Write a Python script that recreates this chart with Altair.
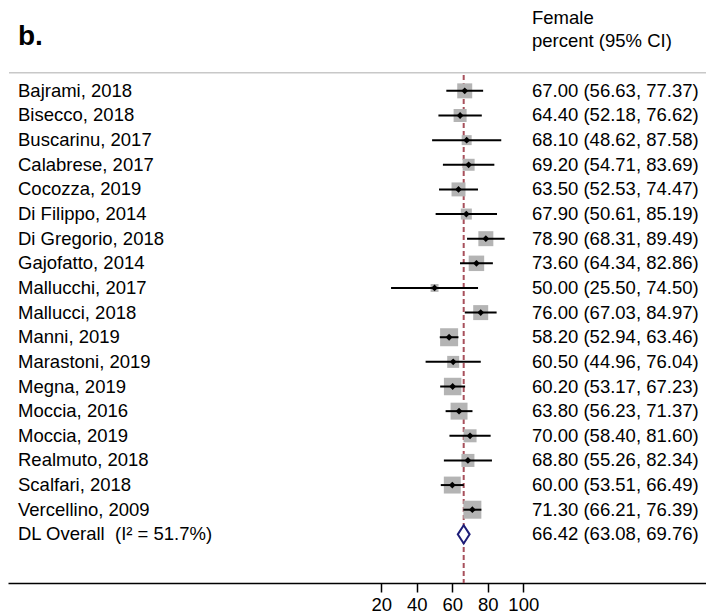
import altair as alt
import pandas as pd

studies = ["Bajrami, 2018", "Bisecco, 2018", "Buscarinu, 2017", "Calabrese, 2017",
           "Cocozza, 2019", "Di Filippo, 2014", "Di Gregorio, 2018", "Gajofatto, 2014",
           "Mallucchi, 2017", "Mallucci, 2018", "Manni, 2019", "Marastoni, 2019",
           "Megna, 2019", "Moccia, 2016", "Moccia, 2019", "Realmuto, 2018",
           "Scalfari, 2018", "Vercellino, 2009"]
est = [67.00, 64.40, 68.10, 69.20, 63.50, 67.90, 78.90, 73.60, 50.00, 76.00,
       58.20, 60.50, 60.20, 63.80, 70.00, 68.80, 60.00, 71.30]
lo = [56.63, 52.18, 48.62, 54.71, 52.53, 50.61, 68.31, 64.34, 25.50, 67.03,
      52.94, 44.96, 53.17, 56.23, 58.40, 55.26, 53.51, 66.21]
hi = [77.37, 76.62, 87.58, 83.69, 74.47, 85.19, 89.49, 82.86, 74.50, 84.97,
      63.46, 76.04, 67.23, 71.37, 81.60, 82.34, 66.49, 76.39]
# study weights (%)
weights = [6.1, 4.6, 2.7, 3.9, 5.3, 3.3, 6.1, 6.5, 1.7, 6.1,
           8.8, 3.9, 8.3, 7.8, 4.6, 4.6, 7.8, 8.8]

overall_label = "DL Overall\u00a0 (I\u00b2 = 51.7%)"
overall_est = 66.42
overall_lo = 63.08
overall_hi = 69.76

tick_values = [20, 40, 60, 80, 100]

FONT = "Liberation Sans"
FS = 18.5
W, H = 698, 575

n = len(studies)
df = pd.DataFrame({
    "study": studies, "est": est, "lo": lo, "hi": hi, "w": weights,
    "row": list(range(n)),
})
df["txt"] = [f"{e:.2f} ({l:.2f}, {h:.2f})" for e, l, h in zip(est, lo, hi)]

ov = pd.DataFrame({"study": [overall_label], "est": [overall_est], "lo": [overall_lo],
                   "hi": [overall_hi], "row": [n],
                   "txt": [f"{overall_est:.2f} ({overall_lo:.2f}, {overall_hi:.2f})"]})
labels = pd.concat([df[["study", "row", "txt"]], ov[["study", "row", "txt"]]])

half = 0.37
dia = pd.DataFrame({
    "x": [overall_lo, overall_est, overall_hi],
    "y": [n, n - half, n],
    "y2": [n, n + half, n],
})

xscale = alt.Scale(domain=[-190.31, 202.93], nice=False, zero=False)
yscale = alt.Scale(domain=[-3.363, 19.975], nice=False, zero=False, reverse=True)
xaxis = alt.Axis(values=tick_values, title=None, grid=False, domainColor="black",
                 domainWidth=1.5, tickColor="black", tickWidth=1.5, tickSize=9,
                 labelFont=FONT, labelFontSize=FS, labelColor="black", labelPadding=3,
                 labelFlush=False, labelOverlap=False)

base = alt.Chart(df)

header_rule = alt.Chart(pd.DataFrame({"a": [0]})).mark_rule(
    color="#c8c8c8", strokeWidth=1.5).encode(
    x=alt.value(1), x2=alt.value(W), y=alt.value(64.7))

dash = alt.Chart(ov).mark_rule(color="#a8505c", strokeWidth=2,
                               strokeDash=[5, 3]).encode(
    x=alt.X("est:Q", scale=xscale, axis=xaxis),
    y=alt.value(67), y2=alt.value(H))

boxes = base.mark_square(color="#b4b4b4", opacity=1).encode(
    x=alt.X("est:Q", scale=xscale, axis=xaxis),
    y=alt.Y("row:Q", scale=yscale, axis=None),
    size=alt.Size("w:Q", scale=alt.Scale(domain=[0, 8.8], range=[0, 324]), legend=None))

ci = base.mark_rule(color="black", strokeWidth=2).encode(
    x=alt.X("lo:Q", scale=xscale, axis=xaxis), x2="hi:Q",
    y=alt.Y("row:Q", scale=yscale, axis=None))

pts = base.mark_point(shape="diamond", filled=True, color="black", size=46,
                      opacity=1).encode(
    x=alt.X("est:Q", scale=xscale, axis=xaxis),
    y=alt.Y("row:Q", scale=yscale, axis=None))

diamond = alt.Chart(dia).mark_area(fill="white", stroke="#1e1e78", strokeWidth=2,
                                   opacity=1, fillOpacity=1).encode(
    x=alt.X("x:Q", scale=xscale, axis=xaxis),
    y=alt.Y("y:Q", scale=yscale, axis=None), y2="y2:Q")

left_txt = alt.Chart(labels).mark_text(align="left", baseline="middle", font=FONT,
                                       fontSize=FS, color="black").encode(
    x=alt.value(10), y=alt.Y("row:Q", scale=yscale, axis=None), text="study:N")

right_txt = alt.Chart(labels).mark_text(align="left", baseline="middle", font=FONT,
                                        fontSize=FS, color="black").encode(
    x=alt.value(524), y=alt.Y("row:Q", scale=yscale, axis=None), text="txt:N")

hdr = pd.DataFrame({"t": ["Female", "percent (95% CI)"], "k": [0, 1]})
header1 = alt.Chart(hdr[hdr.k == 0]).mark_text(align="left", baseline="alphabetic",
                                                font=FONT, fontSize=FS, color="black").encode(
    x=alt.value(524), y=alt.value(16), text="t:N")
header2 = alt.Chart(hdr[hdr.k == 1]).mark_text(align="left", baseline="alphabetic",
                                                font=FONT, fontSize=FS, color="black").encode(
    x=alt.value(524), y=alt.value(39), text="t:N")

title = alt.Chart(pd.DataFrame({"t": ["b."]})).mark_text(
    align="left", baseline="alphabetic", font=FONT, fontSize=28, fontWeight="bold",
    color="black").encode(x=alt.value(10), y=alt.value(37), text="t:N")

chart = alt.layer(header_rule, dash, boxes, ci, pts, diamond, left_txt, right_txt,
                  header1, header2, title).properties(
    width=W, height=H,
    background="white",
    autosize=alt.AutoSizeParams(type="none"),
    padding={"left": 0, "top": 0, "right": 0, "bottom": 32},
).configure_view(stroke=None)

chart.save("out.html", embed_options={"renderer": "svg", "actions": False})
